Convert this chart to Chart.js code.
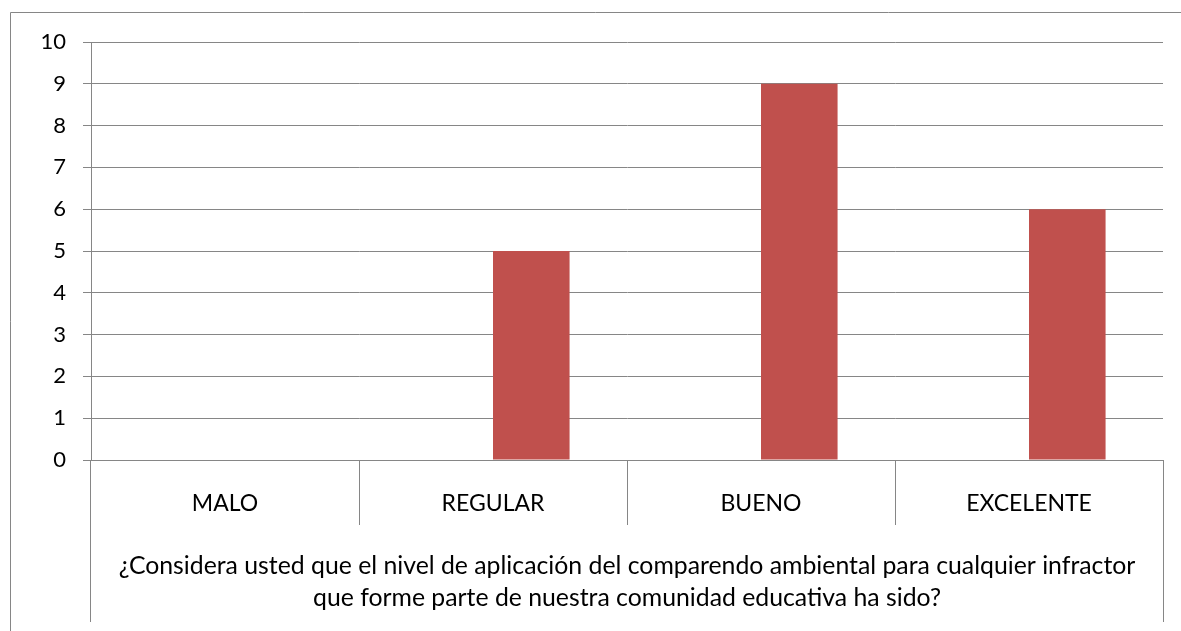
<!DOCTYPE html>
<html><head><meta charset="utf-8">
<script src="https://cdn.jsdelivr.net/npm/chart.js@4"></script>
<style>html,body{margin:0;padding:0;background:#fff}#wrap{width:1181px;height:631px}</style>
</head><body><div id="wrap"><canvas id="c" width="1181" height="631"></canvas></div>
<script>
const categories = ['MALO', 'REGULAR', 'BUENO', 'EXCELENTE'];
const series1 = [null, null, null, null];
const series2 = [0, 5, 9, 6];
const yTicks = [0, 1, 2, 3, 4, 5, 6, 7, 8, 9, 10];
const axisTitle = ['¿Considera usted que el nivel de aplicación del comparendo ambiental para cualquier infractor', 'que forme parte de nuestra comunidad educativa ha sido?'];

const LINE = '#868686';
const FONT = 'Lato';

const framePlugin = {
  id: 'frame',
  beforeDraw(chart) {
    const ctx = chart.ctx;
    ctx.save();
    ctx.strokeStyle = LINE; ctx.lineWidth = 1;
    ctx.beginPath();
    ctx.moveTo(10.5, 631); ctx.lineTo(10.5, 12.5); ctx.lineTo(1181, 12.5);
    ctx.stroke();
    ctx.restore();
  },
  afterDraw(chart) {
    const ctx = chart.ctx, x = chart.scales.x, a = chart.chartArea;
    ctx.save();
    ctx.strokeStyle = LINE; ctx.lineWidth = 1;
    ctx.beginPath();
    for (let i = 0; i <= categories.length; i++) {
      let px = i === categories.length ? a.right : (i === 0 ? a.left : (x.getPixelForValue(i - 1) + x.getPixelForValue(i)) / 2);
      px = Math.round(px) + 0.5;
      if (i === 0) px = Math.round(a.left) - 0.5;
      const edge = (i === 0 || i === categories.length);
      ctx.moveTo(px, a.bottom);
      ctx.lineTo(px, edge ? 622 : 525);
    }
    ctx.stroke();
    ctx.restore();
  }
};

new Chart(document.getElementById('c'), {
  type: 'bar',
  data: {
    labels: categories,
    datasets: [
      { label: 'Serie 1', data: series1, backgroundColor: '#4F81BD' },
      { label: 'Serie 2', data: series2, backgroundColor: '#C0504D' }
    ]
  },
  options: {
    responsive: false,
    animation: false,
    devicePixelRatio: 1,
    layout: { padding: { left: 0, top: 42, right: 18, bottom: 0 } },
    plugins: { legend: { display: false }, tooltip: { enabled: false }, title: { display: false } },
    datasets: { bar: { categoryPercentage: 2 / 3.5, barPercentage: 1 } },
    scales: {
      x: {
        offset: true,
        grid: { display: false, drawTicks: false },
        border: { display: true, color: LINE, width: 1 },
        ticks: { color: '#000', padding: 30, font: { family: FONT, size: 23 }, maxRotation: 0, autoSkip: false },
        title: { display: true, text: axisTitle, color: '#000', font: { family: FONT, size: 24.8, lineHeight: '32px' }, padding: { top: 0, bottom: 17 } },
        afterFit(s) { s.height = 171; }
      },
      y: {
        min: 0, max: 10,
        afterBuildTicks(s) { s.ticks = yTicks.map(v => ({ value: v })); },
        grid: { color: LINE, lineWidth: 1, tickLength: 8, drawTicks: true },
        border: { display: true, color: LINE, width: 1 },
        ticks: { color: '#000', padding: 17, font: { family: FONT, size: 22 } },
        afterFit(s) { s.width = 91; }
      }
    }
  },
  plugins: [framePlugin]
});
</script></body></html>
